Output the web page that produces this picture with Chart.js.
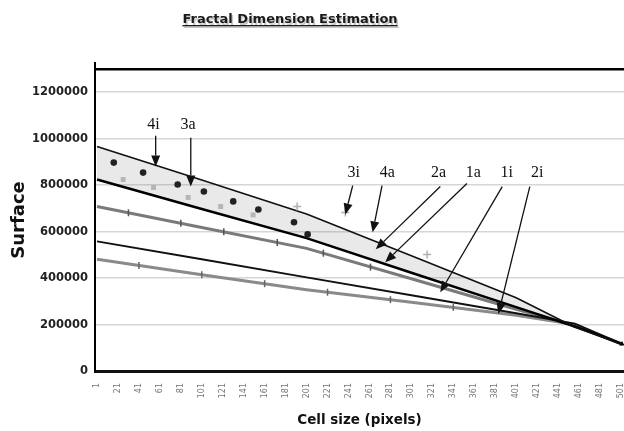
<!DOCTYPE html>
<html><head><meta charset="utf-8">
<script src="https://cdn.jsdelivr.net/npm/chart.js@4.4.1/dist/chart.umd.min.js"></script>
<style>html,body{margin:0;padding:0;background:#fff}#wrap{width:624px;height:431px}</style>
</head><body><div id="wrap"><canvas id="c" width="624" height="431"></canvas></div>
<script>
const TITLE = 'Fractal Dimension Estimation';
const X_TITLE = 'Cell size (pixels)';
const Y_TITLE = 'Surface';

const xTickLabels = [1,21,41,61,81,101,121,141,161,181,201,221,241,261,281,301,321,341,361,381,401,421,441,461,481,501];
const yTickValues = [0,200000,400000,600000,800000,1000000,1200000];
const yMax = 1300000;

// fitted curves (cell size -> surface)
const fitX   = [1, 101, 201, 301, 401, 457, 502];
const fit4i  = [966000, 822000, 676000, 496000, 315000, 188000, 116000];
const fit1a  = [824000, 697000, 572000, 423000, 275000, 192000, 116000];
const fit2a  = [708000, 618000, 528000, 397000, 266000, 196000, 116000];
const fit1i  = [558000, 481000, 403000, 326000, 249000, 204000, 116000];
const fit2i  = [481000, 414000, 350000, 296000, 240000, 200000, 116000];

// measured points
const dots3aX = [17, 45, 78, 103, 131, 155, 189, 202];
const dots3aY = [897000, 854000, 803000, 773000, 730000, 695000, 640000, 588000];
const sq4aX = [26, 55, 88, 119, 150];
const sq4aY = [824000, 790000, 747000, 708000, 672000];
const cr3iX = [192, 238, 316];
const cr3iY = [708000, 682000, 502000];
const tick2aX = [31, 81, 122, 173, 217, 262];
const tick2aY = [681000, 636000, 599000, 553000, 507000, 447000];
const tick2iX = [41, 101, 161, 221, 281, 341];
const tick2iY = [454000, 414000, 376000, 339000, 307000, 274000];

// annotation labels with arrows (data coordinates)
const annoText  = ['4i','3a','3i','4a','2a','1a','1i','2i'];
const annoTextX = [55, 88, 246, 278, 327, 360, 392, 421];
const annoTextY = [1060000, 1060000, 854000, 854000, 854000, 854000, 854000, 854000];
const annoFromX = [57, 90.5, 245, 273, 328.6, 354, 387.7, 414];
const annoFromY = [1013000, 1004000, 798000, 798000, 794000, 807000, 794000, 794000];
const annoTipX  = [57, 90.5, 238, 264, 267, 276, 328.6, 384];
const annoTipY  = [880000, 794000, 674000, 597000, 524000, 468000, 339000, 245000];

const pts = (xs, ys) => xs.map((x, i) => ({x, y: ys[i]}));

const overlay = {
  id: 'overlay',
  afterDraw(chart) {
    const ctx = chart.ctx;
    const xs = chart.scales.x, ys = chart.scales.y;
    const area = chart.chartArea;
    ctx.save();
    // small axis extension above the frame
    ctx.strokeStyle = '#000'; ctx.lineWidth = 2;
    ctx.beginPath(); ctx.moveTo(area.left, area.top - 7); ctx.lineTo(area.left, area.top); ctx.stroke();
    // title
    ctx.font = 'bold 13px "DejaVu Sans"';
    ctx.textAlign = 'center';
    ctx.textBaseline = 'alphabetic';
    const w = ctx.measureText(TITLE).width;
    ctx.fillStyle = 'rgba(0,0,0,0.22)';
    ctx.fillText(TITLE, 291.5, 24.5);
    ctx.fillRect(291.5 - w / 2, 26.5, w, 1.5);
    ctx.fillStyle = '#1a1a1a';
    ctx.fillText(TITLE, 290, 23);
    ctx.fillRect(290 - w / 2, 25, w, 1.3);
    // annotations
    ctx.font = '16px "Liberation Serif"';
    ctx.textBaseline = 'middle';
    ctx.strokeStyle = '#111';
    ctx.fillStyle = '#111';
    ctx.lineWidth = 1.3;
    annoText.forEach((t, i) => {
      const tx = xs.getPixelForValue(annoTextX[i]), ty = ys.getPixelForValue(annoTextY[i]);
      ctx.fillText(t, tx, ty);
      const fx = xs.getPixelForValue(annoFromX[i]), fy = ys.getPixelForValue(annoFromY[i]);
      const px = xs.getPixelForValue(annoTipX[i]), py = ys.getPixelForValue(annoTipY[i]);
      const ang = Math.atan2(py - fy, px - fx);
      const L = 11, H = 4.5;
      const bx = px - L * Math.cos(ang), by = py - L * Math.sin(ang);
      ctx.beginPath(); ctx.moveTo(fx, fy); ctx.lineTo(bx, by); ctx.stroke();
      ctx.beginPath();
      ctx.moveTo(px, py);
      ctx.lineTo(bx + H * Math.sin(ang), by - H * Math.cos(ang));
      ctx.lineTo(bx - H * Math.sin(ang), by + H * Math.cos(ang));
      ctx.closePath(); ctx.fill();
    });
    ctx.restore();
  }
};

new Chart(document.getElementById('c'), {
  type: 'scatter',
  data: {
    datasets: [
      {label: '4i', data: pts(fitX, fit4i), showLine: true, borderColor: '#111', borderWidth: 1.6, pointRadius: 0, order: 1},
      {label: '1a', data: pts(fitX, fit1a), showLine: true, borderColor: '#000', borderWidth: 2.6, pointRadius: [0,0,0,0,0,0,3], pointStyle: 'triangle', pointBackgroundColor: '#000', pointBorderWidth: 0, fill: {target: 0}, backgroundColor: 'rgba(120,120,120,0.16)', order: 1},
      {label: '2a', data: pts(fitX, fit2a), showLine: true, borderColor: '#7a7a7a', borderWidth: 3, pointRadius: 0, order: 2},
      {label: '1i', data: pts(fitX, fit1i), showLine: true, borderColor: '#111', borderWidth: 2, pointRadius: 0, order: 1},
      {label: '2i', data: pts(fitX, fit2i), showLine: true, borderColor: '#8a8a8a', borderWidth: 3, pointRadius: 0, order: 2},
      {label: '3a', data: pts(dots3aX, dots3aY), pointStyle: 'circle', pointRadius: 3.3, backgroundColor: '#222', borderColor: '#222', borderWidth: 0, order: 0},
      {label: '4a', data: pts(sq4aX, sq4aY), pointStyle: 'rect', pointRadius: 3.5, backgroundColor: '#b5b5b5', borderColor: '#b5b5b5', borderWidth: 0, order: 0},
      {label: '3i', data: pts(cr3iX, cr3iY), pointStyle: 'cross', pointRadius: 4, borderColor: '#b0b0b0', borderWidth: 1.5, order: 0},
      {label: '2a pts', data: pts(tick2aX, tick2aY), pointStyle: 'line', rotation: 90, pointRadius: 3.5, borderColor: '#555', borderWidth: 1.5, order: 0},
      {label: '2i pts', data: pts(tick2iX, tick2iY), pointStyle: 'line', rotation: 90, pointRadius: 3.5, borderColor: '#666', borderWidth: 1.5, order: 0}
    ]
  },
  options: {
    responsive: false,
    animation: false,
    devicePixelRatio: 1,
    events: [],
    layout: {autoPadding: false, padding: {top: 69, left: 0, right: 0, bottom: 0}},
    plugins: {legend: {display: false}, tooltip: {enabled: false}, title: {display: false}},
    scales: {
      x: {
        type: 'linear', min: -0.9, max: 503.9,
        afterBuildTicks: s => { s.ticks = xTickLabels.map(v => ({value: v})); },
        afterFit: s => { s.height = 60; s.paddingLeft = 0; s.paddingRight = 0; },
        ticks: {autoSkip: false, minRotation: 90, maxRotation: 90, padding: 12, color: '#777',
                font: {family: 'DejaVu Sans', size: 8}, callback: v => String(v)},
        grid: {display: false, drawTicks: false},
        border: {display: true, color: '#111', width: 3},
        title: {display: true, text: X_TITLE, color: '#111', padding: {top: 0, bottom: 2},
                font: {family: 'DejaVu Sans', weight: 'bold', size: 13.5}}
      },
      y: {
        type: 'linear', min: 0, max: yMax,
        afterBuildTicks: s => { s.ticks = yTickValues.concat([yMax]).map(v => ({value: v})); },
        afterFit: s => { s.width = 95; },
        ticks: {padding: 7, color: '#222', font: {family: 'DejaVu Sans', weight: 'bold', size: 11.5},
                callback: v => v === yMax ? '' : String(v)},
        grid: {drawTicks: false,
               color: c => (c.tick && c.tick.value === yMax) ? '#000' : '#d6d6d6',
               lineWidth: c => (c.tick && c.tick.value === yMax) ? 2.5 : 1.5},
        border: {display: true, color: '#000', width: 2},
        title: {display: true, text: Y_TITLE, color: '#111', padding: {top: 9, bottom: 0},
                font: {family: 'DejaVu Sans', weight: 'bold', size: 18}}
      }
    }
  },
  plugins: [overlay]
});
</script>
</body></html>
